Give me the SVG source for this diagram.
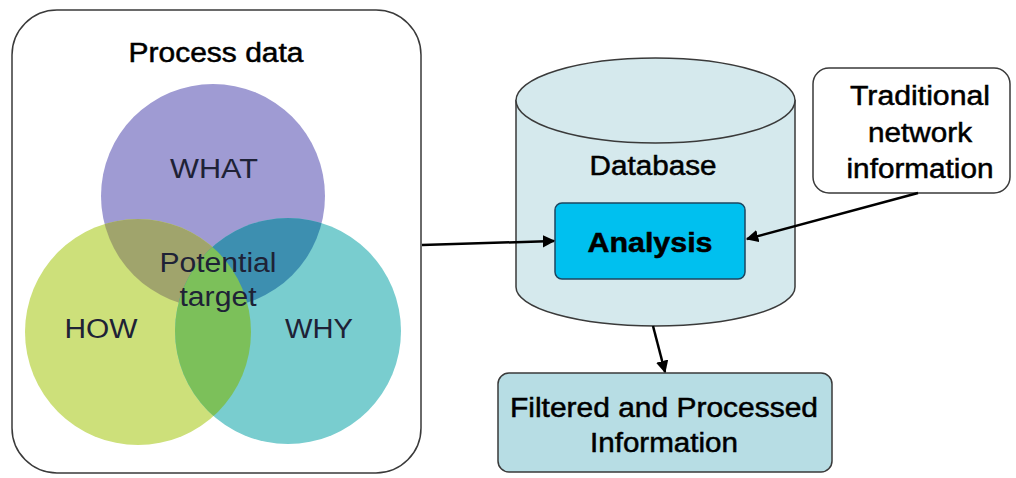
<svg xmlns="http://www.w3.org/2000/svg" width="1016" height="478" viewBox="0 0 1016 478">
<style>
text{font-family:"Liberation Sans",Arial,sans-serif;}
.lbl{fill:#000;stroke:#000;stroke-width:0.5;font-size:27px;text-anchor:middle;}
.venn{fill:#1e2236;font-size:27px;text-anchor:middle;}
.conn{stroke:#000;stroke-width:2.5;fill:none;}
</style>
<defs>
<marker id="ah" viewBox="0 0 10 10" refX="9" refY="5" markerWidth="5" markerHeight="5" markerUnits="strokeWidth" orient="auto">
<path d="M0,0 L10,5 L0,10 z" fill="#000"/>
</marker>
<clipPath id="cWhat"><circle cx="213" cy="196" r="112"/></clipPath>
<clipPath id="cWhy"><circle cx="288" cy="331" r="113"/></clipPath>
</defs>
<rect width="1016" height="478" fill="#fff"/>

<g id="process-data">
<rect x="12" y="10" width="409" height="463" rx="45" fill="#fff" stroke="#3a3a3a" stroke-width="1.5"/>
<text class="lbl" x="216" y="62" font-size="28" textLength="175" lengthAdjust="spacingAndGlyphs">Process data</text>
<circle cx="213" cy="196" r="112" fill="#9f9bd3"/>
<circle cx="138" cy="332" r="113" fill="#cde07a"/>
<circle cx="288" cy="331" r="113" fill="#79cdcf"/>
<circle cx="138" cy="332" r="113" fill="#a0a46c" clip-path="url(#cWhat)"/>
<circle cx="288" cy="331" r="113" fill="#3d8fb0" clip-path="url(#cWhat)"/>
<circle cx="138" cy="332" r="113" fill="#7cc05a" clip-path="url(#cWhy)"/>
<text class="venn" x="214" y="178" font-size="28" textLength="88" lengthAdjust="spacingAndGlyphs">WHAT</text>
<text class="venn" x="218" y="272" font-size="26" textLength="117" lengthAdjust="spacingAndGlyphs">Potential</text>
<text class="venn" x="218" y="306" font-size="26" textLength="77" lengthAdjust="spacingAndGlyphs">target</text>
<text class="venn" x="101" y="338" font-size="28" textLength="73" lengthAdjust="spacingAndGlyphs">HOW</text>
<text class="venn" x="319" y="338" font-size="28" textLength="68" lengthAdjust="spacingAndGlyphs">WHY</text>
</g>

<g id="database">
<path d="M516,100.5 L516,287 A139.5,39 0 0 0 795,287 L795,100.5 Z" fill="#d5e9ed" stroke="#3a3a3a" stroke-width="1.5"/>
<ellipse cx="655.5" cy="100.5" rx="139.5" ry="42.5" fill="#d5e9ed" stroke="#3a3a3a" stroke-width="1.5"/>
<text class="lbl" x="653" y="175" font-size="27" textLength="127" lengthAdjust="spacingAndGlyphs">Database</text>
</g>

<g id="analysis">
<rect x="555" y="203" width="190" height="76" rx="7" fill="#00c0ef" stroke="#1d4660" stroke-width="1.5"/>
<text class="lbl" x="650" y="252" font-size="28" font-weight="bold" fill="#0c1a3c" stroke="#0c1a3c" stroke-width="0.3" textLength="125" lengthAdjust="spacingAndGlyphs">Analysis</text>
</g>

<g id="traditional">
<rect x="813" y="68" width="197" height="125" rx="16" fill="#fff" stroke="#3a3a3a" stroke-width="1.5"/>
<text class="lbl" x="920" y="105" font-size="27" textLength="140" lengthAdjust="spacingAndGlyphs">Traditional</text>
<text class="lbl" x="920" y="142" font-size="27" textLength="104" lengthAdjust="spacingAndGlyphs">network</text>
<text class="lbl" x="920" y="178" font-size="27" textLength="147" lengthAdjust="spacingAndGlyphs">information</text>
</g>

<g id="filtered">
<rect x="498" y="373" width="334" height="99" rx="11" fill="#b7dde4" stroke="#3a3a3a" stroke-width="1.5"/>
<text class="lbl" x="664" y="417" font-size="27" textLength="308" lengthAdjust="spacingAndGlyphs">Filtered and Processed</text>
<text class="lbl" x="664" y="452" font-size="27" textLength="148" lengthAdjust="spacingAndGlyphs">Information</text>
</g>

<g id="connectors">
<line class="conn" x1="422" y1="245" x2="554" y2="241" marker-end="url(#ah)"/>
<line class="conn" x1="918" y1="193" x2="747" y2="239" marker-end="url(#ah)"/>
<line class="conn" x1="653" y1="326" x2="665" y2="372" stroke-width="3.2" marker-end="url(#ah)"/>
</g>
</svg>
